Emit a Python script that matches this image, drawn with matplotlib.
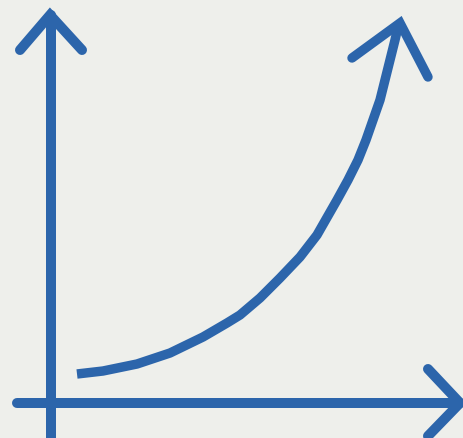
import matplotlib
matplotlib.use('Agg')
import matplotlib.pyplot as plt

# ── Data (origin at the axes crossing, units ~ pixels) ──
curve_x = [26, 52, 86, 119, 152, 176, 189, 209, 229, 249, 266,
           286, 297, 307, 315, 322, 329, 334, 339, 344, 347]
curve_y = [29, 32, 39, 50, 66, 80, 88, 105, 125, 146, 168,
           203, 223, 243, 263, 283, 303, 323, 343, 363, 376]

x_axis_x = [-34, 409]
x_axis_y = [0, 0]
y_axis_x = [0, 0]
y_axis_y = [-35, 388]

x_head_x = [377, 409, 377]
x_head_y = [34, 0, -33]
y_head_x = [-31, -1, 31]
y_head_y = [353, 388, 353]
c_head_x = [301, 349, 377]
c_head_y = [345, 380, 326]

BLUE = '#2c65ab'
BG   = '#eeefeb'

fig = plt.figure(figsize=(4.64, 4.38), dpi=100, facecolor=BG)
ax = fig.add_axes([0, 0, 1, 1])
ax.set_facecolor(BG)
ax.set_xlim(-51, 413)
ax.set_ylim(-35, 403)
ax.axis('off')

style = dict(color=BLUE, solid_capstyle='round', solid_joinstyle='miter')

ax.plot(x_axis_x, x_axis_y, lw=7.2, **style)
ax.plot(y_axis_x, y_axis_y, lw=7.2, **style)
ax.plot(x_head_x, x_head_y, lw=7.2, **style)
ax.plot(y_head_x, y_head_y, lw=7.2, **style)

ax.plot(curve_x, curve_y, lw=6.8, color=BLUE, solid_capstyle='butt',
        solid_joinstyle='round')
ax.plot(c_head_x, c_head_y, lw=6.8, **style)

fig.savefig('out.png', dpi=100, facecolor=BG)
